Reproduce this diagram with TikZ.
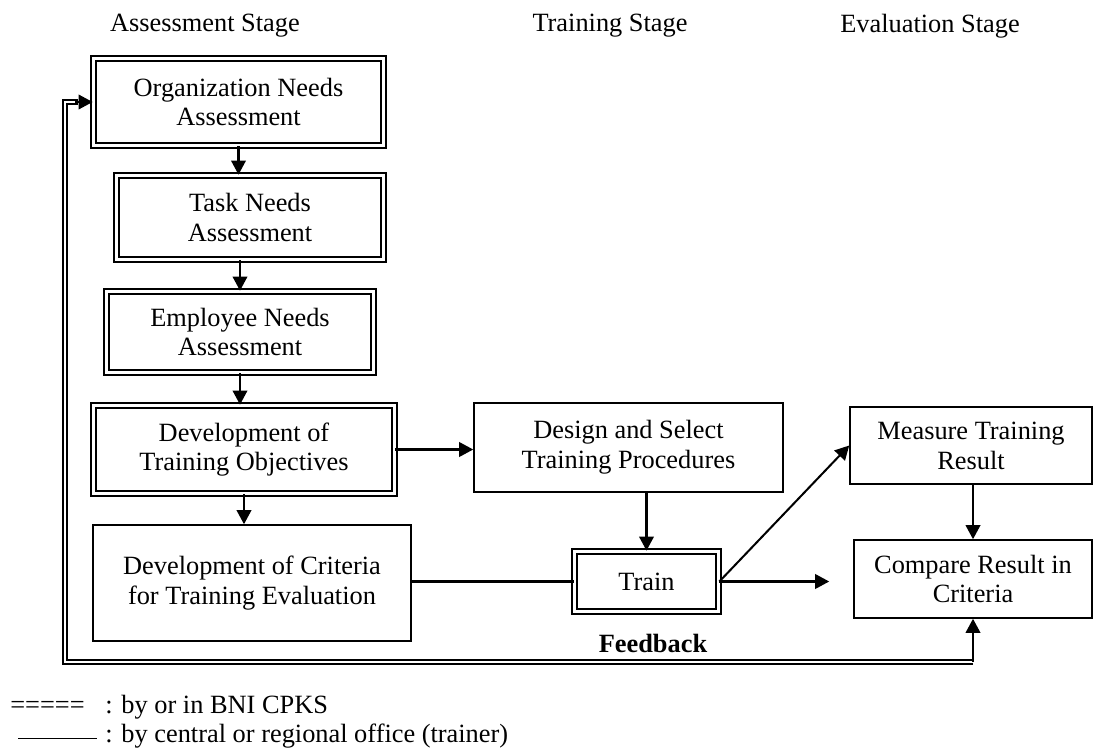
\documentclass[tikz,border=0pt]{standalone}
\usepackage{fontspec}
\setmainfont{Liberation Serif}
\usetikzlibrary{positioning,arrows.meta}

\tikzset{
  sglbox/.style={rectangle, draw, line width=0.9pt, align=center},
  dblbox/.style={rectangle, draw, double, line width=1pt, double distance=1.5pt, align=center},
  arr/.style={line width=1.15pt, -{Triangle[length=2.8mm, width=2.9mm]}},
  conn/.style={line width=1.15pt},
  fbline/.style={double, line width=1pt, double distance=1.5pt},
}

\begin{document}
\begin{tikzpicture}[every node/.style={font=\fontsize{15}{17}\selectfont}]
\useasboundingbox (0,0) rectangle (21.88,-14.98);

\node (headA) at (4.10,-0.52) {Assessment Stage};
\node (headT) at (12.20,-0.52) {Training Stage};
\node (headE) at (18.60,-0.52) {Evaluation Stage};

\node (rectOrg) [dblbox, minimum width=58mm, minimum height=17.4mm] at (4.77,-2.04) {Organization Needs\\Assessment};
\node (rectTask) [dblbox, minimum width=53.4mm, minimum height=16.8mm] at (5.00,-4.35) {Task Needs\\Assessment};
\node (rectEmp) [dblbox, minimum width=53.4mm, minimum height=16.2mm] at (4.80,-6.64) {Employee Needs\\Assessment};
\node (rectObj) [dblbox, minimum width=60.2mm, minimum height=17.6mm] at (4.88,-8.99) {Development of\\Training Objectives};
\node (rectCrit) [sglbox, minimum width=63.6mm, minimum height=23.2mm] at (5.04,-11.66) {Development of Criteria\\for Training Evaluation};

\node (rectDesign) [sglbox, minimum width=61.8mm, minimum height=17.8mm] at (12.57,-8.95) {Design and Select\\Training Procedures};
\node (rectTrain) [dblbox, minimum width=28.8mm, minimum height=12mm] at (12.93,-11.63) {Train};

\node (rectMeasure) [sglbox, minimum width=48.4mm, minimum height=15.4mm] at (19.42,-8.91) {Measure Training\\Result};
\node (rectCompare) [sglbox, minimum width=47.6mm, minimum height=15.6mm] at (19.46,-11.58) {Compare Result in\\Criteria};

\draw[arr] (rectOrg.south) -- (rectOrg.south |- rectTask.north);
\draw[arr] (rectEmp.north |- rectTask.south) -- (rectEmp.north);
\draw[arr] (rectEmp.south) -- (rectEmp.south |- rectObj.north);
\draw[arr] (rectObj.south) -- (rectObj.south |- rectCrit.north);
\draw[arr] (rectObj.east) -- (rectObj.east -| rectDesign.west);
\draw[arr] (rectDesign.south -| rectTrain.north) -- (rectTrain.north);
\draw[conn] (rectCrit.east |- rectTrain.west) -- (rectTrain.west);
\draw[arr] (rectTrain.east) -- (rectMeasure.west);
\coordinate (cmpIn) at ([xshift=-4.8mm]rectCompare.west);
\draw[arr] (rectTrain.east) -- (rectTrain.east -| cmpIn);
\draw[arr] (rectMeasure.south -| rectCompare.south) -- (rectCompare.north);

\coordinate (fbLeft) at (1.30,-13.24);
\draw[fbline] (rectCompare.south |- fbLeft) -- (fbLeft) |- ([xshift=-3mm]rectOrg.west);
\draw[arr] ([xshift=-3.5mm]rectOrg.west) -- (rectOrg.west);
\draw[arr] (rectCompare.south |- fbLeft) -- (rectCompare.south);
\node (fbText) at (13.06,-12.86) {\textbf{Feedback}};

\node (legA) [anchor=west, inner sep=0pt] at (0.20,-14.14) {=====};
\node (legAText) [anchor=west, inner sep=0pt] at (2.10,-14.14) {: by or in BNI CPKS};
\node (legBText) [anchor=west, inner sep=0pt] at (2.10,-14.72) {: by central or regional office (trainer)};
\coordinate (legB) at (0.36,-14.77);
\draw[line width=0.9pt] (legB) -- ([xshift=-1.6mm]legB -| legBText.west);
\end{tikzpicture}
\end{document}
